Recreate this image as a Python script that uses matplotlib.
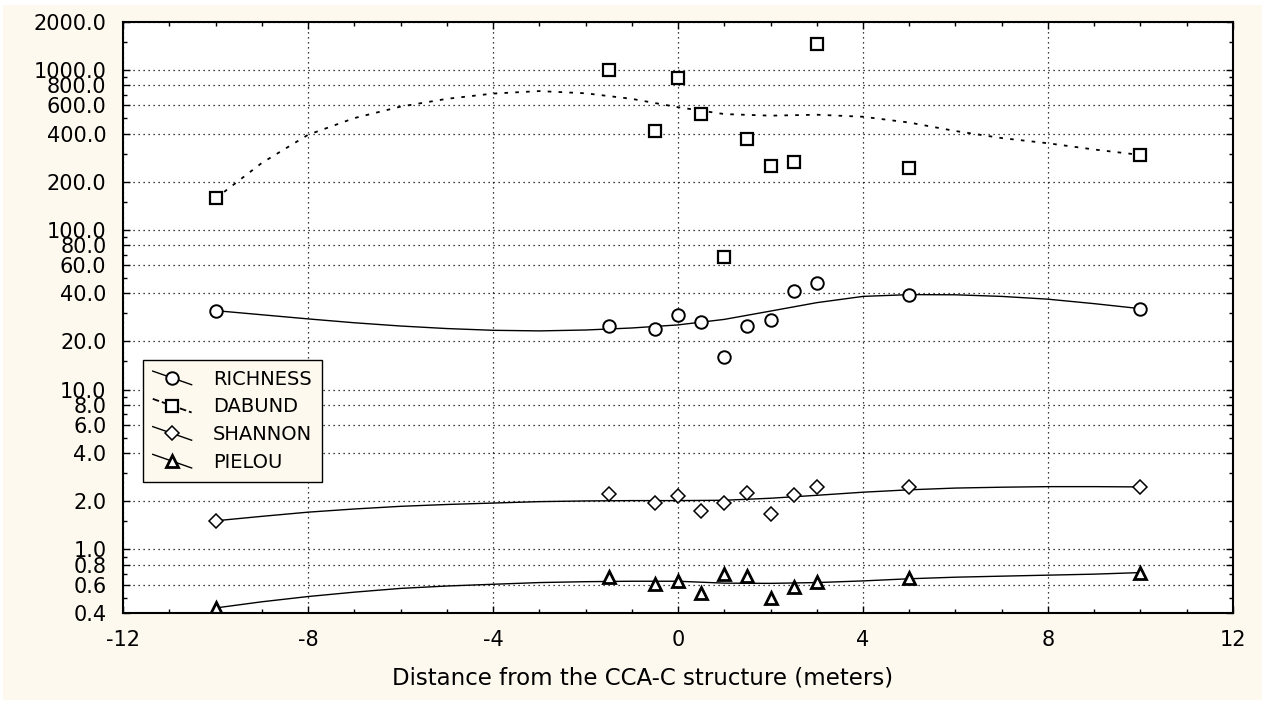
import matplotlib
matplotlib.use('Agg')

import matplotlib.pyplot as plt
from matplotlib.lines import Line2D
from matplotlib.patches import Rectangle
from matplotlib.legend_handler import HandlerLine2D
from matplotlib.ticker import FixedLocator, NullFormatter

plt.rcParams['font.family'] = ['DejaVu Sans']

# ------------------------------------------------------------
# data
# ------------------------------------------------------------
distance = [-10, -1.5, -0.5, 0, 0.5, 1, 1.5, 2, 2.5, 3, 5, 10]

richness = [31.2, 25.0, 24.1, 29.3, 26.3, 16.1, 25.1, 27.2, 41.5, 46.3, 39.3, 32.1]
dabund = [157, 1000, 416, 896, 533, 68, 369, 249, 267, 1450, 245, 294]
shannon = [1.51, 2.22, 1.96, 2.17, 1.75, 1.96, 2.25, 1.67, 2.18, 2.47, 2.46, 2.46]
pielou = [0.43, 0.676, 0.608, 0.635, 0.532, 0.703, 0.68, 0.495, 0.58, 0.627, 0.666, 0.716]

# smoothed fit curves at every metre
fit_x = [-10, -9, -8, -7, -6, -5, -4, -3, -2, -1, 0, 1, 2, 3, 4, 5, 6, 7, 8, 9, 10]
fit_richness = [31.2, 29.4, 27.7, 26.2, 25.0, 24.1, 23.5, 23.3, 23.6, 24.3, 25.4,
                27.5, 31.0, 35.0, 38.3, 39.3, 39.2, 38.3, 36.8, 34.5, 32.1]
fit_dabund = [157, 262, 393, 500, 590, 660, 712, 738, 715, 660, 585,
              530, 518, 525, 510, 469, 415, 375, 348, 318, 294]
fit_shannon = [1.51, 1.61, 1.71, 1.79, 1.86, 1.91, 1.95, 1.99, 2.01, 2.02, 2.02,
               2.03, 2.09, 2.18, 2.28, 2.36, 2.42, 2.45, 2.47, 2.47, 2.46]
fit_pielou = [0.43, 0.47, 0.507, 0.54, 0.57, 0.59, 0.605, 0.62, 0.628, 0.632, 0.632,
              0.615, 0.613, 0.62, 0.635, 0.655, 0.67, 0.68, 0.69, 0.70, 0.716]

labels = ['RICHNESS', 'DABUND', 'SHANNON', 'PIELOU']

y_major = [0.4, 0.6, 0.8, 1, 2, 4, 6, 8, 10, 20, 40, 60, 80, 100,
           200, 400, 600, 800, 1000, 2000]
y_minor = [0.5, 0.7, 0.9, 1.5, 3, 5, 7, 9, 15, 30, 50, 70, 90,
           150, 300, 500, 700, 900, 1500]
x_major = [-12, -8, -4, 0, 4, 8, 12]

bg = '#fef9ee'


class DiagonalHandler(HandlerLine2D):
    # legend key drawn as a slanted line with the marker in the middle
    def create_artists(self, legend, orig_handle, xdescent, ydescent,
                       width, height, fontsize, trans):
        x0, x1 = -xdescent, -xdescent + width
        y0, y1 = -ydescent + height * 1.0, -ydescent
        line = Line2D([x0, x1], [y0, y1], color='black',
                      lw=orig_handle.get_linewidth(),
                      linestyle=orig_handle.get_linestyle())
        mark = Line2D([(x0 + x1) / 2], [(y0 + y1) / 2], linestyle='none',
                      marker=orig_handle.get_marker(),
                      markersize=orig_handle.get_markersize(),
                      mfc='white', mec='black',
                      mew=orig_handle.get_markeredgewidth())
        line.set_transform(trans)
        mark.set_transform(trans)
        return [line, mark]


fig = plt.figure(figsize=(12.62, 7.02), dpi=100, facecolor='white')
fig.patches.append(Rectangle((3 / 1262, 2 / 702), 1 - 3 / 1262, 1 - 7 / 702,
                             transform=fig.transFigure, facecolor=bg,
                             edgecolor='none', zorder=-10))
ax = fig.add_axes([0.0975, 0.1268, 0.8795, 0.842])
ax.set_facecolor('white')

# fitted curves
ax.plot(fit_x, fit_richness, color='black', lw=1.0)
ax.plot(fit_x, fit_dabund, color='black', lw=1.3, linestyle=(0, (2, 4)))
ax.plot(fit_x, fit_shannon, color='black', lw=1.0)
ax.plot(fit_x, fit_pielou, color='black', lw=1.0)

# points
ax.plot(distance, richness, 'o', ms=9, mfc='white', mec='black', mew=1.4)
ax.plot(distance, dabund, 's', ms=9, mfc='white', mec='black', mew=1.6)
ax.plot(distance, shannon, 'D', ms=7, mfc='white', mec='black', mew=1.1)
ax.plot(distance, pielou, '^', ms=8, mfc='white', mec='black', mew=2.0)

# legend proxies
h1 = Line2D([], [], color='black', lw=1.0, marker='o', ms=9, mew=1.4)
h2 = Line2D([], [], color='black', lw=1.3, linestyle=(0, (1, 2.5)), marker='s', ms=8, mew=1.6)
h3 = Line2D([], [], color='black', lw=1.0, marker='D', ms=7, mew=1.1)
h4 = Line2D([], [], color='black', lw=1.0, marker='^', ms=8, mew=2.0)
leg = ax.legend([h1, h2, h3, h4], labels,
                handler_map={Line2D: DiagonalHandler()},
                loc='upper left', bbox_to_anchor=(0.018, 0.428), fontsize=14,
                handlelength=2.0, handletextpad=1.1, labelspacing=0.45,
                borderpad=0.5, borderaxespad=0, fancybox=False, framealpha=1)
leg.get_frame().set_facecolor(bg)
leg.get_frame().set_edgecolor('black')
leg.get_frame().set_linewidth(1.0)

ax.set_yscale('log')
ax.set_ylim(0.4, 2000)
ax.set_xlim(-12, 12)

ax.yaxis.set_major_locator(FixedLocator(y_major))
ax.yaxis.set_minor_locator(FixedLocator(y_minor))
ax.yaxis.set_minor_formatter(NullFormatter())
ax.set_yticklabels([f'{v:.1f}' for v in y_major])
ax.set_xticks(x_major)
ax.set_xticklabels([str(v) for v in x_major])
ax.xaxis.set_minor_locator(FixedLocator(range(-12, 13)))

ax.tick_params(which='both', direction='in', top=True, right=True, labelsize=15, color='black')
ax.tick_params(which='major', length=5, width=1.0)
ax.tick_params(axis='y', which='major', pad=12)
ax.tick_params(axis='x', which='major', pad=12)
ax.tick_params(which='minor', length=3, width=1.0)

ax.grid(True, which='major', color='black', linestyle=(0, (1, 3)), linewidth=0.9)

for sp in ax.spines.values():
    sp.set_linewidth(1.5)
    sp.set_color('black')

ax.set_xlabel('Distance from the CCA-C structure (meters)', fontsize=16.5)
ax.xaxis.set_label_coords(0.4685, -0.09)

fig.savefig('out.png', dpi=100, facecolor='white')
